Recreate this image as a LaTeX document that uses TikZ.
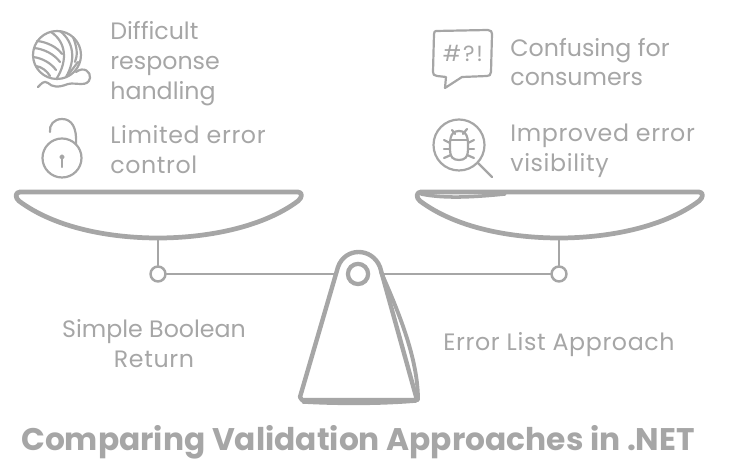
\documentclass[tikz,border=0pt]{standalone}
\usepackage{fontspec}
\setmainfont{Poppins}
\newfontfamily\lblfont[LetterSpace=2.6]{Poppins}
\newfontfamily\symfont[LetterSpace=8]{Poppins}
\definecolor{sketchgray}{HTML}{A6A6A6}
\tikzset{
  panline/.style={draw=sketchgray, line width=2.7pt, line cap=round, line join=round},
  beamline/.style={draw=sketchgray, line width=1.6pt, line cap=round},
  iconline/.style={draw=sketchgray, line width=1.25pt, line cap=round, line join=round},
  joint/.style={circle, draw=sketchgray, line width=1.4pt, fill=white, minimum size=8.5pt, inner sep=0pt},
  lbl/.style={text=sketchgray, font=\lblfont\fontsize{13.5pt}{17pt}\selectfont, inner sep=0pt},
  lbltight/.style={text=sketchgray, font=\fontsize{13.5pt}{17pt}\selectfont, inner sep=0pt},
  titlelbl/.style={text=sketchgray, font=\fontsize{17.8pt}{20pt}\selectfont\bfseries, inner sep=0pt}
}
\begin{document}
\begin{tikzpicture}[x=0.02cm, y=-0.02cm]
\useasboundingbox (0,0) rectangle (730,475);
% labels
\node[lbltight, anchor=west, align=left] (difficult) at (110,64) {Difficult\\response\\handling};
\node[lbl, anchor=west, align=left] (limited) at (110,150) {Limited error\\control};
\node[lbltight, anchor=west, align=left] (confusing) at (510,62) {Confusing for\\consumers};
\node[lbl, anchor=west, align=left] (improved) at (510,151) {Improved error\\visibility};
\node[lbltight, align=center] (simple) at (154,344) {Simple Boolean\\{\lblfont Return}};
\node[lbl] (errorlist) at (559,345) {Error List Approach};
\node[titlelbl] (title) at (358,442) {Comparing Validation Approaches in .NET};
% beam and joints
\coordinate (leftPanBottom) at (158,238);
\coordinate (rightPanBottom) at (559,238);
\node[joint] (leftJoint) at (158,274) {};
\node[joint] (rightJoint) at (559,274) {};
\coordinate (pivotCentre) at (358,274);
\draw[beamline] (leftPanBottom) -- (leftJoint);
\draw[beamline] (rightPanBottom) -- (rightJoint);
\draw[beamline] (leftJoint) -- (pivotCentre);
\draw[beamline] (rightJoint) -- (pivotCentre);
% pans
\draw[panline] (20,192) -- (298,192) .. controls (303,192) and (302,198) .. (298,201)
  .. controls (262,228) and (205,238) .. (158,238) .. controls (110,238) and (55,228) .. (19,201)
  .. controls (15,198) and (15,192) .. (20,192) -- cycle;
\draw[panline] (421,192) -- (699,192) .. controls (704,192) and (703,198) .. (699,201)
  .. controls (663,228) and (606,238) .. (559,238) .. controls (511,238) and (456,228) .. (420,201)
  .. controls (416,198) and (416,192) .. (421,192) -- cycle;
\draw[panline, line width=2pt] (421,194) .. controls (445,199) and (475,197) .. (505,194);
% base
\draw[panline, fill=white, line width=2.5pt] (338,267) .. controls (345,247) and (372,247) .. (380,267)
  -- (417,400) -- (302,400) -- (300,397) -- cycle;
\draw[panline, line width=2.2pt] (381,272) .. controls (400,315) and (418,360) .. (418,400);
\draw[panline, line width=2pt] (303,402) .. controls (340,404) and (380,404) .. (416,401);
\node[circle, draw=sketchgray, line width=2.4pt, fill=white, minimum size=11.5pt, inner sep=0pt] (pivot) at (pivotCentre) {};
% yarn ball
\draw[iconline] (57,55) circle (24);
\draw[iconline] (60,31) .. controls (74,42) and (76,60) .. (66,77);
\draw[iconline] (51,32) .. controls (66,42) and (68,60) .. (57,78);
\draw[iconline] (37,41) .. controls (47,42) and (57,47) .. (62,54);
\draw[iconline] (34,48) .. controls (44,49) and (54,54) .. (60,62);
\draw[iconline] (33,57) .. controls (42,58) and (51,63) .. (56,70);
\draw[iconline] (36,66) .. controls (42,67) and (47,71) .. (50,76);
\draw[iconline] (73,37) .. controls (77,47) and (78,55) .. (75,62);
\draw[iconline] (68,75) -- (78,62);
\draw[iconline] (76,72) .. controls (84,66) and (91,72) .. (90,78)
  .. controls (88,88) and (76,82) .. (68,84) .. controls (58,88) and (52,87) .. (48,83)
  .. controls (44,80) and (41,84) .. (38,87);
% lock
\draw[iconline] (62,158) circle (19.5);
\draw[iconline] (50,132) .. controls (49,125) and (54,119) .. (62,119) .. controls (72,119) and (77,128) .. (76,144);
\draw[iconline, fill=sketchgray] (62,157) circle (1.5);
\draw[iconline] (62,157) -- (62,167);
% speech bubble
\draw[iconline] (436,31) -- (488,30) .. controls (491,30) and (492,32) .. (492,34) -- (491,72)
  .. controls (491,75) and (489,76) .. (487,76) -- (462,77) -- (445,88) -- (446,77) -- (437,76)
  .. controls (434,76) and (433,74) .. (433,72) -- (434,34) .. controls (434,32) and (435,31) .. (436,31) -- cycle;
\node[text=sketchgray, font=\symfont\fontsize{12.5pt}{14pt}\selectfont, inner sep=0pt] (symbols) at (463,53) {\#?!};
% bug and lens
\draw[iconline] (459,145) circle (25.5);
\draw[iconline] (478,163) -- (492,177);
\draw[iconline] (459,131) .. controls (449,131) and (450,142) .. (450,150) .. controls (450,157) and (453,160) .. (459,160)
  .. controls (465,160) and (468,157) .. (468,150) .. controls (468,142) and (469,131) .. (459,131) -- cycle;
\draw[iconline] (451,140) -- (467,140);
\draw[iconline] (452,130) -- (455,134);
\draw[iconline] (467,129) -- (463,134);
\draw[iconline] (450,143) -- (444,140);
\draw[iconline] (450,149) -- (444,149);
\draw[iconline] (451,155) -- (444,158);
\draw[iconline] (468,143) -- (474,140);
\draw[iconline] (468,149) -- (474,149);
\draw[iconline] (467,155) -- (474,158);
\end{tikzpicture}
\end{document}
